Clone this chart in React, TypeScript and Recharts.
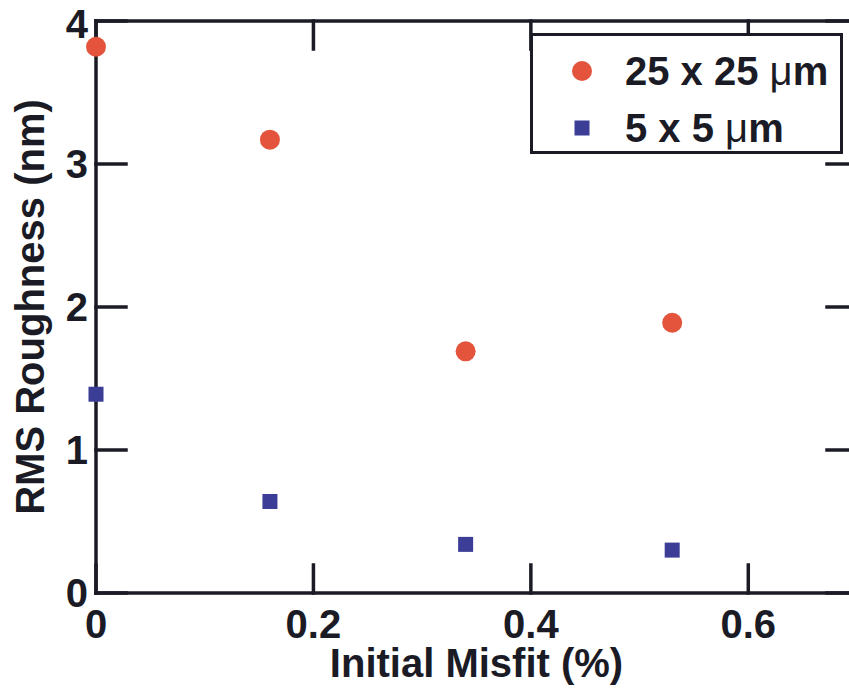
import React from "react";
import { ScatterChart, Scatter, XAxis, YAxis, Legend, Label } from "recharts";

// misfit (%) and RMS roughness (nm) for the two scan sizes
const misfit = [0, 0.16, 0.34, 0.53];
const rms25 = [3.82, 3.17, 1.69, 1.89];
const rms5 = [1.39, 0.64, 0.34, 0.3];

const xTicks = [0, 0.2, 0.4, 0.6];
const yTicks = [0, 1, 2, 3, 4];
const seriesNames = ["25 x 25 \u03bcm", "5 x 5 \u03bcm"];

const INK = "#1b1b26";
const RED = "#e4533b";
const BLUE = "#3b3d97";
const FONT = '"Liberation Sans", Arial, Helvetica, sans-serif';

const data25 = misfit.map((x, i) => ({ x, y: rms25[i] }));
const data5 = misfit.map((x, i) => ({ x, y: rms5[i] }));

const lineStyle = { stroke: INK, strokeWidth: 3.5, strokeLinecap: "square" as const };
const tickFont = { fill: INK, fontSize: 40, fontWeight: 700, fontFamily: FONT };
// frame edges keep their tick marks but carry no labels
const noLabel = () => <g />;

const Dot = (props: any) => <circle cx={props.cx} cy={props.cy} r={10} fill={RED} />;
const Square = (props: any) => (
  <rect x={props.cx - 7.5} y={props.cy - 7.5} width={15} height={15} fill={BLUE} />
);

// bold text, with the micro sign in a lighter weight
const MuText = ({ text }: { text: string }) => {
  const [before, after] = text.split("\u03bc");
  return (
    <span>
      {before}
      <span style={{ fontWeight: 400 }}>{"\u03bc"}</span>
      {after}
    </span>
  );
};

const LegendBox = () => (
  <div
    style={{
      boxSizing: "border-box",
      width: 313,
      height: 121,
      border: `3.5px solid ${INK}`,
      background: "#fff",
      position: "relative",
      fontFamily: FONT,
      fontWeight: 700,
      fontSize: 40,
      color: INK,
    }}
  >
    {seriesNames.map((name, i) => (
      <div
        key={name}
        style={{ position: "absolute", left: 0, top: 12 + i * 57, height: 46, display: "flex", alignItems: "center" }}
      >
        <svg width={92} height={46}>
          {i === 0 ? <circle cx={49} cy={23} r={10} fill={RED} /> : <rect x={41.5} y={15.5} width={15} height={15} fill={BLUE} />}
        </svg>
        <MuText text={name} />
      </div>
    ))}
  </div>
);

export default function App() {
  return (
    <div style={{ position: "fixed", left: 0, top: 0, width: 849, height: 690, overflow: "hidden", background: "#fff" }}>
      <ScatterChart width={880} height={690} margin={{ top: 20, right: 22, bottom: 0, left: 0 }}>
        <XAxis
          type="number"
          dataKey="x"
          domain={[0, 0.7]}
          ticks={xTicks}
          height={97}
          axisLine={lineStyle}
          tickLine={lineStyle}
          tickSize={-28}
          tickMargin={45}
          tick={tickFont}
          tickFormatter={(v: number) => (v === 0 ? "0" : v.toFixed(1))}
        >
          <Label
            content={({ viewBox }: any) => (
              <text
                x={viewBox.x + viewBox.width / 2}
                y={viewBox.y + 84}
                textAnchor="middle"
                fill={INK}
                fontSize={40}
                fontWeight={700}
                fontFamily={FONT}
              >
                Initial Misfit (%)
              </text>
            )}
          />
        </XAxis>
        {/* frame: top edge with inward ticks, same scale as the bottom axis */}
        <XAxis
          xAxisId="top"
          orientation="top"
          type="number"
          dataKey="x"
          domain={[0, 0.7]}
          ticks={xTicks}
          height={1}
          axisLine={lineStyle}
          tickLine={lineStyle}
          tickSize={-28}
          tick={noLabel}
        />
        <YAxis
          type="number"
          dataKey="y"
          domain={[0, 4]}
          ticks={yTicks}
          width={96}
          axisLine={lineStyle}
          tickLine={lineStyle}
          tickSize={-30}
          tickMargin={38}
          tick={tickFont}
        >
          <Label
            content={({ viewBox }: any) => {
              const cx = 30;
              const cy = viewBox.y + viewBox.height / 2;
              return (
                <text
                  x={cx}
                  y={cy}
                  transform={`rotate(-90 ${cx} ${cy})`}
                  textAnchor="middle"
                  dominantBaseline="central"
                  fill={INK}
                  fontSize={40}
                  fontWeight={700}
                  fontFamily={FONT}
                >
                  RMS Roughness (nm)
                </text>
              );
            }}
          />
        </YAxis>
        {/* frame: right edge with inward ticks, same scale as the left axis */}
        <YAxis
          yAxisId="right"
          orientation="right"
          type="number"
          dataKey="y"
          domain={[0, 4]}
          ticks={yTicks}
          width={1}
          axisLine={lineStyle}
          tickLine={lineStyle}
          tickSize={-30}
          tick={noLabel}
        />
        <Scatter name={seriesNames[0]} data={data25} shape={Dot} isAnimationActive={false} />
        <Scatter
          name={seriesNames[1]}
          data={data5}
          xAxisId="top"
          yAxisId="right"
          shape={Square}
          isAnimationActive={false}
        />
        <Legend
          layout="horizontal"
          verticalAlign="middle"
          align="center"
          wrapperStyle={{ position: "absolute", left: 530, top: 33, width: 313, height: 121 }}
          content={() => <LegendBox />}
        />
      </ScatterChart>
    </div>
  );
}
